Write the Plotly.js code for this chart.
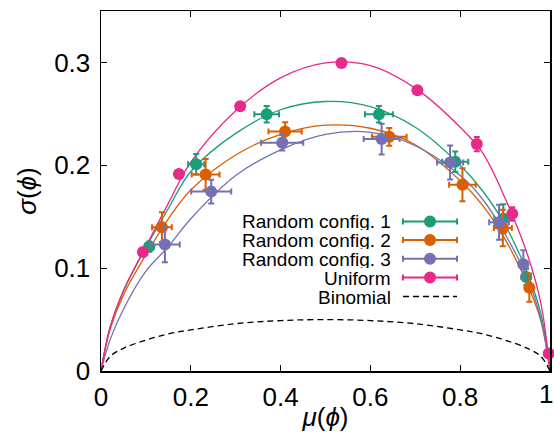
<!DOCTYPE html>
<html>
<head>
<meta charset="utf-8">
<script src="https://cdn.plot.ly/plotly-3.0.1.min.js"></script>
<style>html,body{margin:0;padding:0;background:#fff;}#chart{width:554px;height:432px;}</style>
</head>
<body>
<div id="chart"></div>
<script>
// ---- data ----
const seriesNames = ["Random config. 1", "Random config. 2", "Random config. 3", "Uniform"];
const seriesColors = ["#1b9e77", "#d95f02", "#7570b3", "#e7298a"];

const cfg1X    = [0.1075, 0.212, 0.369, 0.619, 0.789, 0.896, 0.947];
const cfg1Y    = [0.121, 0.201, 0.2497, 0.2497, 0.2035, 0.148, 0.0914];
const cfg1XErr = [0.010, 0.018, 0.0275, 0.031, 0.029, 0.020, 0.010];
const cfg1YErr = [0.005, 0.010, 0.008, 0.008, 0.010, 0.014, 0.008];

const cfg2X    = [0.1357, 0.233, 0.410, 0.642, 0.805, 0.895, 0.954];
const cfg2Y    = [0.1398, 0.191, 0.2329, 0.2277, 0.181, 0.139, 0.081];
const cfg2XErr = [0.022, 0.031, 0.037, 0.0386, 0.0297, 0.020, 0.008];
const cfg2YErr = [0.0145, 0.015, 0.009, 0.0086, 0.016, 0.0178, 0.0137];

const cfg3X    = [0.1424, 0.2455, 0.4035, 0.625, 0.7775, 0.8865, 0.9406];
const cfg3Y    = [0.123, 0.1744, 0.2219, 0.2255, 0.2028, 0.1447, 0.1037];
const cfg3XErr = [0.033, 0.0445, 0.047, 0.040, 0.029, 0.022, 0.010];
const cfg3YErr = [0.0173, 0.0116, 0.0076, 0.015, 0.0165, 0.017, 0.0137];

const uniX    = [0.0935, 0.1736, 0.310, 0.5355, 0.7047, 0.837, 0.916, 0.997];
const uniY    = [0.1156, 0.1916, 0.2575, 0.2994, 0.273, 0.2206, 0.1528, 0.0171];
const uniXErr = [0, 0, 0, 0, 0, 0, 0, 0];
const uniYErr = [0.002, 0.002, 0.002, 0.002, 0.003, 0.007, 0.0065, 0.002];

// fitted curves
const fitX     = [0, 0.02, 0.05, 0.1, 0.15, 0.2, 0.3, 0.4, 0.5, 0.6, 0.7, 0.8, 0.85, 0.9, 0.95, 0.98, 1];
const fit1Y    = [0, 0.042, 0.078, 0.120, 0.158, 0.194, 0.231, 0.254, 0.262, 0.257, 0.237, 0.200, 0.175, 0.142, 0.095, 0.055, 0];
const fit2Y    = [0, 0.040, 0.074, 0.113, 0.148, 0.176, 0.210, 0.230, 0.239, 0.236, 0.220, 0.185, 0.161, 0.128, 0.084, 0.048, 0];
const fit3Y    = [0, 0.030, 0.060, 0.097, 0.121, 0.148, 0.190, 0.215, 0.230, 0.232, 0.219, 0.190, 0.167, 0.133, 0.090, 0.050, 0];
const fitUniY  = [0, 0.042, 0.078, 0.121, 0.163, 0.203, 0.253, 0.285, 0.2995, 0.297, 0.275, 0.237, 0.212, 0.168, 0.113, 0.065, 0];
const binomY   = [0, 0.014, 0.022, 0.030, 0.036, 0.040, 0.046, 0.049, 0.050, 0.049, 0.046, 0.040, 0.036, 0.030, 0.022, 0.014, 0];

const xTicks = [0, 0.2, 0.4, 0.6, 0.8, 1];
const xTickText = ["0", "0.2", "0.4", "0.6", "0.8", "1"];
const yTicks = [0, 0.1, 0.2, 0.3];
const yTickText = ["0", "0.1", "0.2", "0.3"];

// ---- traces ----
const FONT = "Liberation Sans, Arial, Helvetica, sans-serif";
const fits = [fit1Y, fit2Y, fit3Y, fitUniY];
const pts = [
  [cfg1X, cfg1Y, cfg1XErr, cfg1YErr],
  [cfg2X, cfg2Y, cfg2XErr, cfg2YErr],
  [cfg3X, cfg3Y, cfg3XErr, cfg3YErr],
  [uniX, uniY, uniXErr, uniYErr]
];
const traces = [];
fits.forEach((fy, i) => {
  traces.push({x: fitX, y: fy, mode: "lines", type: "scatter", showlegend: false,
    line: {color: seriesColors[i], width: 1.3, shape: "spline", smoothing: 1}, hoverinfo: "skip"});
});
traces.push({x: fitX, y: binomY, mode: "lines", type: "scatter", showlegend: false, name: "Binomial",
  line: {color: "#000", width: 1.3, dash: "6px,4px", shape: "spline", smoothing: 1}});
pts.forEach((p, i) => {
  traces.push({x: p[0], y: p[1], mode: "markers", type: "scatter", showlegend: false, name: seriesNames[i],
    cliponaxis: false,
    marker: {color: seriesColors[i], size: 12},
    error_x: {type: "data", array: p[2], visible: true, color: seriesColors[i], thickness: 2, width: 3},
    error_y: {type: "data", array: p[3], visible: true, color: seriesColors[i], thickness: 2, width: 3}});
});

// ---- layout (manual legend in gnuplot style) ----
const W = 554, H = 432, ML = 101, MR = 4, MT = 11, MB = 61;
const PW = W - ML - MR, PH = H - MT - MB;
const px = v => (v - ML) / PW;
const py = v => (H - MB - v) / PH;

const rows = [221.5, 240, 258.7, 277.5, 296.5];
const legendNames = seriesNames.concat(["Binomial"]);
const shapes = [];
const annotations = [];
legendNames.forEach((nm, i) => {
  annotations.push({xref: "paper", yref: "paper", x: px(393), y: py(rows[i]), xanchor: "right", yanchor: "middle",
    height: 18, valign: "middle",
    text: nm, showarrow: false, font: {family: FONT, size: 19, color: "#000"}});
  if (i < 4) {
    const c = seriesColors[i];
    shapes.push({type: "line", xref: "paper", yref: "paper", x0: px(403), x1: px(457), y0: py(rows[i]), y1: py(rows[i]),
      line: {color: c, width: 2}});
    [403, 457].forEach(xx => shapes.push({type: "line", xref: "paper", yref: "paper", x0: px(xx), x1: px(xx),
      ysizemode: "pixel", yanchor: py(rows[i]), y0: -3, y1: 3, line: {color: c, width: 2}}));
    shapes.push({type: "circle", xref: "paper", yref: "paper", xsizemode: "pixel", ysizemode: "pixel",
      xanchor: px(430), yanchor: py(rows[i]), x0: -6, x1: 6, y0: -6, y1: 6, fillcolor: c, line: {width: 0}});
  } else {
    shapes.push({type: "line", xref: "paper", yref: "paper", x0: px(403), x1: px(457), y0: py(rows[i]), y1: py(rows[i]),
      line: {color: "#000", width: 1.3, dash: "6px,4px"}});
  }
});

// last x tick label sits at the right edge: draw it right-aligned so it stays inside the page
const lastIdx = xTicks.length - 1;
annotations.push({xref: "paper", yref: "paper", x: 1, xshift: 4, y: 0, yshift: -7, xanchor: "right", yanchor: "top",
  text: xTickText[lastIdx], showarrow: false, borderpad: 0, font: {family: FONT, size: 26, color: "#000"}});

const axisCommon = {showline: true, linecolor: "#000", linewidth: 1.5, mirror: "ticks", ticks: "inside",
  ticklen: 6, tickwidth: 1.2, tickcolor: "#000", showgrid: false, zeroline: false,
  tickfont: {family: FONT, size: 26, color: "#000"}, automargin: false};

const layout = {
  width: W, height: H,
  margin: {l: ML, r: MR, t: MT, b: MB},
  paper_bgcolor: "#fff", plot_bgcolor: "#fff",
  showlegend: false,
  xaxis: Object.assign({}, axisCommon, {range: [0, 1], tickvals: xTicks,
    ticktext: xTickText.map((t, i) => i === lastIdx ? " " : t),
    ticklabelstandoff: 2,
    title: {text: "<i>μ</i>(<i>ϕ</i>)", font: {family: FONT, size: 26, color: "#000"}, standoff: 2}}),
  yaxis: Object.assign({}, axisCommon, {range: [0, 0.35], tickvals: yTicks, ticktext: yTickText,
    ticklabelstandoff: 4,
    title: {text: "<i>σ</i>(<i>ϕ</i>)", font: {family: FONT, size: 26, color: "#000"}, standoff: 10}}),
  shapes: shapes,
  annotations: annotations
};

Plotly.newPlot("chart", traces, layout, {displayModeBar: false, staticPlot: true});
</script>
</body>
</html>
